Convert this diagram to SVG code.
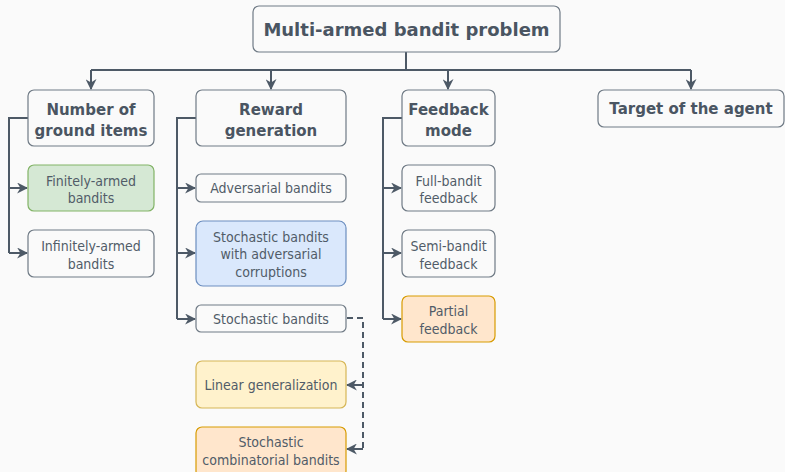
<svg xmlns="http://www.w3.org/2000/svg" width="785" height="472" viewBox="0 0 785 472">
  <defs>
    <marker id="arr" viewBox="0 0 10 10" refX="9" refY="5" markerWidth="11" markerHeight="11" markerUnits="userSpaceOnUse" orient="auto">
      <path d="M0,0 L10,5 L0,10 L3,5 Z" fill="#4d5966"/>
    </marker>
    <style>
      .bg { fill: #fafafa; }
      .node rect { fill: #fafafa; stroke: #6f7a85; stroke-width: 1.2; }
      .node text { font-family: "DejaVu Sans", Verdana, sans-serif; fill: #4a5562; text-anchor: middle; }
      .head text { font-weight: bold; font-size: 15px; }
      .root text { font-weight: bold; font-size: 18px; }
      .leaf text { font-family: "DejaVu Sans Condensed", "DejaVu Sans", sans-serif; font-size: 14px; fill: #515c68; }
      .green rect { fill: #d5e8d4; stroke: #82b366; }
      .blue rect { fill: #dae8fc; stroke: #6c8ebf; }
      .orange rect { fill: #ffe6cc; stroke: #d79b00; }
      .yellow rect { fill: #fff2cc; stroke: #d6b656; }
      .links path { fill: none; stroke: #4d5966; stroke-width: 2; }
      .links .arrow { marker-end: url(#arr); }
      .links .dash { stroke-dasharray: 6 4; }
    </style>
  </defs>
  <rect class="bg" x="0" y="0" width="785" height="472"/>

  <!-- connectors -->
  <g class="links">
    <path d="M406,52 V70"/>
    <path d="M91,70 H691"/>
    <path class="arrow" d="M91,70 V89"/>
    <path class="arrow" d="M271,70 V89"/>
    <path class="arrow" d="M448,70 V89"/>
    <path class="arrow" d="M691,70 V89"/>
    <!-- ground items -->
    <path d="M28,118 H9 V253"/>
    <path class="arrow" d="M9,188 H27"/>
    <path class="arrow" d="M9,253 H27"/>
    <!-- reward generation -->
    <path d="M196,118 H177 V319"/>
    <path class="arrow" d="M177,188 H195"/>
    <path class="arrow" d="M177,253 H195"/>
    <path class="arrow" d="M177,319 H195"/>
    <!-- feedback mode -->
    <path d="M402,118 H383 V319"/>
    <path class="arrow" d="M383,188 H401"/>
    <path class="arrow" d="M383,253 H401"/>
    <path class="arrow" d="M383,319 H401"/>
    <!-- stochastic bandits refinements -->
    <path class="dash" d="M347,318 H363 V449"/>
    <path class="arrow" d="M363,385 H347"/>
    <path class="arrow" d="M363,449 H347"/>
  </g>

  <g id="root" class="node root">
    <rect x="253" y="6" width="307" height="46" rx="6"/>
    <text x="406.5" y="36">Multi-armed bandit problem</text>
  </g>

  <g id="ground-items" class="node head">
    <rect x="28" y="90" width="126" height="56" rx="6"/>
    <text x="91" y="115">Number of</text>
    <text x="91" y="136">ground items</text>
  </g>
  <g id="finitely-armed" class="node leaf green">
    <rect x="28" y="165" width="126" height="46" rx="6"/>
    <text x="91" y="186">Finitely-armed</text>
    <text x="91" y="203">bandits</text>
  </g>
  <g id="infinitely-armed" class="node leaf">
    <rect x="28" y="230" width="126" height="47" rx="6"/>
    <text x="91" y="251">Infinitely-armed</text>
    <text x="91" y="269">bandits</text>
  </g>

  <g id="reward-generation" class="node head">
    <rect x="196" y="90" width="150" height="56" rx="6"/>
    <text x="271" y="115">Reward</text>
    <text x="271" y="136">generation</text>
  </g>
  <g id="adversarial" class="node leaf">
    <rect x="196" y="174" width="150" height="28" rx="5"/>
    <text x="271" y="193">Adversarial bandits</text>
  </g>
  <g id="corruptions" class="node leaf blue">
    <rect x="196" y="221" width="150" height="65" rx="7"/>
    <text x="271" y="242">Stochastic bandits</text>
    <text x="271" y="259">with adversarial</text>
    <text x="271" y="277">corruptions</text>
  </g>
  <g id="stochastic" class="node leaf">
    <rect x="196" y="305" width="150" height="27" rx="5"/>
    <text x="271" y="324">Stochastic bandits</text>
  </g>
  <g id="linear" class="node leaf yellow">
    <rect x="196" y="361" width="150" height="47" rx="6"/>
    <text x="271" y="390">Linear generalization</text>
  </g>
  <g id="combinatorial" class="node leaf orange">
    <rect x="196" y="427" width="150" height="50" rx="6"/>
    <text x="271" y="447">Stochastic</text>
    <text x="271" y="465">combinatorial bandits</text>
  </g>

  <g id="feedback-mode" class="node head">
    <rect x="402" y="90" width="93" height="56" rx="6"/>
    <text x="448.5" y="115">Feedback</text>
    <text x="448.5" y="136">mode</text>
  </g>
  <g id="full-bandit" class="node leaf">
    <rect x="402" y="165" width="93" height="46" rx="6"/>
    <text x="448.5" y="186">Full-bandit</text>
    <text x="448.5" y="203">feedback</text>
  </g>
  <g id="semi-bandit" class="node leaf">
    <rect x="402" y="230" width="93" height="47" rx="6"/>
    <text x="448.5" y="251">Semi-bandit</text>
    <text x="448.5" y="269">feedback</text>
  </g>
  <g id="partial" class="node leaf orange">
    <rect x="402" y="296" width="93" height="46" rx="6"/>
    <text x="448.5" y="316">Partial</text>
    <text x="448.5" y="334">feedback</text>
  </g>

  <g id="target" class="node head">
    <rect x="598" y="90" width="186" height="37" rx="6"/>
    <text x="691" y="114">Target of the agent</text>
  </g>
</svg>
